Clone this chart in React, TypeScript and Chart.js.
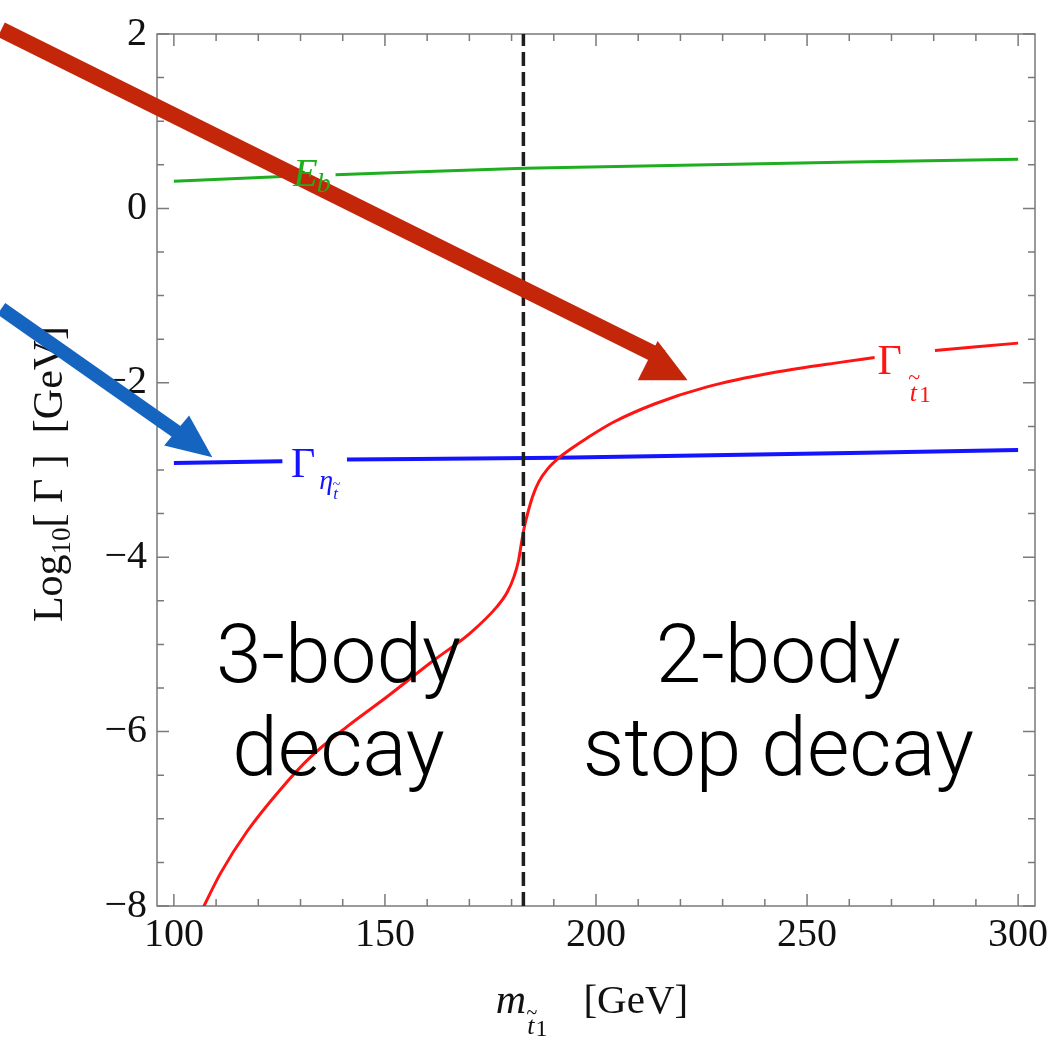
import React, { useEffect, useRef } from 'react';
import { Chart, registerables } from 'chart.js';

Chart.register(...registerables);

// Plot range (frame), in GeV and log10(GeV)
const X_MIN = 96;
const X_MAX = 304;
const Y_MIN = -8;
const Y_MAX = 2;

// Labelled and unlabelled frame ticks
const X_TICKS = [100, 150, 200, 250, 300];
const Y_TICKS = [-8, -6, -4, -2, 0, 2];
const X_MINOR_TICKS = [100, 110, 120, 130, 140, 150, 160, 170, 180, 190, 200, 210, 220, 230, 240, 250, 260, 270, 280, 290, 300];
const Y_MINOR_TICKS = [-8, -7.5, -7, -6.5, -6, -5.5, -5, -4.5, -4, -3.5, -3, -2.5, -2, -1.5, -1, -0.5, 0, 0.5, 1, 1.5, 2];

// Stop width Γ(t̃1), log10 [GeV]; the null leaves room for the curve label
const STOP_MASS = [
  106.6, 111.1, 117.4, 125.3, 132.4, 141.1, 150.5, 160.8, 170.2, 176.5, 179.0, 180.6, 181.6, 182.3,
  183.0, 183.8, 185.0, 186.5, 188.5, 191.0, 194.0, 198.0, 204.2, 214.0, 226.1, 242.4, 258.6, 266.0,
  273.0, 280.3, 300.0,
];
const STOP_WIDTH = [
  -8.05, -7.62, -7.14, -6.66, -6.29, -5.94, -5.6, -5.21, -4.87, -4.57, -4.4, -4.22, -4.05, -3.85,
  -3.66, -3.5, -3.3, -3.13, -2.99, -2.87, -2.76, -2.63, -2.45, -2.24, -2.05, -1.88, -1.76, -1.71,
  null, -1.63, -1.545,
];

// Stoponium width Γ(η_t̃)
const ETA_MASS = [100, 125.7, 133.4, 141.0, 191.0, 300];
const ETA_WIDTH = [-2.92, -2.9, null, -2.88, -2.86, -2.77];

// Binding energy E_b
const EB_MASS = [100, 127.2, 132.7, 138.3, 183.0, 300];
const EB_VALUE = [0.31, 0.368, null, 0.386, 0.46, 0.565];

// Two-body threshold
const THRESHOLD_MASS = 182.8;

// Callout arrows (data units; tails lie left of the frame)
const RED_ARROW_TAIL = [59.1, 2.05];
const RED_ARROW_SHAFT_END = [215.6, -1.713];
const RED_ARROW_HEAD = [[214.6, -1.52], [209.9, -1.97], [221.7, -1.97]];
const BLUE_ARROW_TAIL = [59.1, -1.15];
const BLUE_ARROW_SHAFT_END = [101.2, -2.58];
const BLUE_ARROW_HEAD = [[109.1, -2.854], [103.6, -2.375], [97.7, -2.718]];

// Region captions
const LEFT_CAPTION = ['3-body', 'decay'];
const RIGHT_CAPTION = ['2-body', 'stop decay'];
const LEFT_CAPTION_X = 139.0;
const RIGHT_CAPTION_X = 243.2;
const CAPTION_BASELINES = [-5.43, -6.5];

const RED = '#ff1414';
const BLUE = '#1414ff';
const GREEN = '#1fae1f';
const FRAME = '#7a7a7a';
const SERIF = '"Liberation Serif", "Times New Roman", serif';

const pairs = (xs: number[], ys: (number | null)[]) => xs.map((x, i) => ({ x, y: ys[i] }));

type Run = { t: string; font: string; dy?: number; dx?: number; tilde?: number };

function runsWidth(ctx: CanvasRenderingContext2D, runs: Run[]) {
  let w = 0;
  for (const r of runs) {
    ctx.font = r.font;
    w += ctx.measureText(r.t).width + (r.dx || 0);
  }
  return w;
}

function drawRuns(ctx: CanvasRenderingContext2D, x: number, y: number, runs: Run[]) {
  let cx = x;
  for (const r of runs) {
    ctx.font = r.font;
    cx += r.dx || 0;
    const w = ctx.measureText(r.t).width;
    ctx.fillText(r.t, cx, y + (r.dy || 0));
    if (r.tilde) {
      ctx.save();
      ctx.font = `${r.tilde}px ${SERIF}`;
      const tw = ctx.measureText('~').width;
      ctx.fillText('~', cx + w / 2 - tw / 2 + 1, y + (r.dy || 0) - r.tilde * 0.75);
      ctx.restore();
    }
    cx += w;
  }
}

function drawCentered(ctx: CanvasRenderingContext2D, cx: number, y: number, runs: Run[]) {
  drawRuns(ctx, cx - runsWidth(ctx, runs) / 2, y, runs);
}

const frameTicks = {
  id: 'frameTicks',
  beforeDatasetsDraw(chart: any) {
    const { ctx, chartArea } = chart;
    const { left, right, top, bottom } = chartArea;
    const xs = chart.scales.x;
    const ys = chart.scales.y;
    ctx.save();
    ctx.strokeStyle = FRAME;
    ctx.lineWidth = 1.5;
    ctx.strokeRect(left, top, right - left, bottom - top);
    ctx.beginPath();
    for (const v of X_MINOR_TICKS) {
      const len = X_TICKS.includes(v) ? 12 : 7;
      const x = xs.getPixelForValue(v);
      ctx.moveTo(x, bottom);
      ctx.lineTo(x, bottom - len);
      ctx.moveTo(x, top);
      ctx.lineTo(x, top + len);
    }
    for (const v of Y_MINOR_TICKS) {
      const len = Y_TICKS.includes(v) ? 12 : 7;
      const y = ys.getPixelForValue(v);
      ctx.moveTo(left, y);
      ctx.lineTo(left + len, y);
      ctx.moveTo(right, y);
      ctx.lineTo(right - len, y);
    }
    ctx.stroke();
    ctx.restore();
  },
};

const overlays = {
  id: 'overlays',
  afterDraw(chart: any) {
    const { ctx, chartArea } = chart;
    const xs = chart.scales.x;
    const ys = chart.scales.y;
    const P = (p: number[]) => [xs.getPixelForValue(p[0]), ys.getPixelForValue(p[1])];
    ctx.save();
    ctx.fillStyle = '#111';
    ctx.textBaseline = 'alphabetic';

    // x-axis title
    const cx = (chartArea.left + chartArea.right) / 2;
    drawCentered(ctx, cx - 4, 1013, [
      { t: 'm', font: `italic 42px ${SERIF}` },
      { t: 't', font: `italic 26px ${SERIF}`, dy: 21, dx: 1, tilde: 20 },
      { t: '1', font: `24px ${SERIF}`, dy: 23, dx: 1 },
      { t: '[GeV]', font: `41px ${SERIF}`, dx: 36 },
    ]);

    // y-axis title
    const cy = (chartArea.top + chartArea.bottom) / 2;
    ctx.save();
    ctx.translate(62, cy + 4);
    ctx.rotate(-Math.PI / 2);
    drawCentered(ctx, 0, 0, [
      { t: 'Log', font: `42px ${SERIF}` },
      { t: '10', font: `27px ${SERIF}`, dy: 8 },
      { t: '[ Γ ]  [GeV]', font: `42px ${SERIF}` },
    ]);
    ctx.restore();

    // region captions
    ctx.font = '300 82px Roboto, "Liberation Sans", sans-serif';
    ctx.textAlign = 'center';
    ctx.fillStyle = '#000';
    LEFT_CAPTION.forEach((t, i) => {
      ctx.fillText(t, xs.getPixelForValue(LEFT_CAPTION_X), ys.getPixelForValue(CAPTION_BASELINES[i]));
    });
    RIGHT_CAPTION.forEach((t, i) => {
      ctx.fillText(t, xs.getPixelForValue(RIGHT_CAPTION_X), ys.getPixelForValue(CAPTION_BASELINES[i]));
    });
    ctx.textAlign = 'left';

    // callout arrows
    const arrow = (tail: number[], end: number[], head: number[][], color: string, width: number) => {
      const [x0, y0] = P(tail);
      const [x1, y1] = P(end);
      ctx.strokeStyle = color;
      ctx.fillStyle = color;
      ctx.lineWidth = width;
      ctx.lineCap = 'butt';
      ctx.beginPath();
      ctx.moveTo(x0, y0);
      ctx.lineTo(x1, y1);
      ctx.stroke();
      ctx.beginPath();
      head.forEach((h, i) => {
        const [hx, hy] = P(h);
        if (i === 0) ctx.moveTo(hx, hy);
        else ctx.lineTo(hx, hy);
      });
      ctx.closePath();
      ctx.fill();
    };
    arrow(RED_ARROW_TAIL, RED_ARROW_SHAFT_END, RED_ARROW_HEAD, '#c4260a', 16);
    arrow(BLUE_ARROW_TAIL, BLUE_ARROW_SHAFT_END, BLUE_ARROW_HEAD, '#1565c0', 14);

    // curve labels, sitting in the gaps of their curves
    // E_b
    ctx.fillStyle = GREEN;
    drawCentered(ctx, xs.getPixelForValue(132.7), ys.getPixelForValue(0.377) + 10, [
      { t: 'E', font: `italic 40px ${SERIF}` },
      { t: 'b', font: `italic 28px ${SERIF}`, dy: 6, dx: -1 },
    ]);

    // Γ_η
    ctx.fillStyle = BLUE;
    drawCentered(ctx, xs.getPixelForValue(133.3), ys.getPixelForValue(-2.89) + 17, [
      { t: 'Γ', font: `42px ${SERIF}` },
      { t: 'η', font: `italic 28px ${SERIF}`, dy: 12, dx: 4 },
      { t: 't', font: `italic 17px ${SERIF}`, dy: 22, tilde: 14 },
    ]);

    // Γ_t1
    ctx.fillStyle = RED;
    drawCentered(ctx, xs.getPixelForValue(273.0), ys.getPixelForValue(-1.68) + 19, [
      { t: 'Γ', font: `42px ${SERIF}` },
      { t: 't', font: `italic 26px ${SERIF}`, dy: 27, dx: 8, tilde: 22 },
      { t: '1', font: `24px ${SERIF}`, dy: 28, dx: 2 },
    ]);
    ctx.restore();
  },
};

export default function App() {
  const ref = useRef<HTMLCanvasElement>(null);

  useEffect(() => {
    const canvas = ref.current;
    if (!canvas) return;
    const chart = new Chart(canvas, {
      type: 'line',
      data: {
        datasets: [
          {
            label: 'threshold',
            data: [{ x: THRESHOLD_MASS, y: Y_MIN }, { x: THRESHOLD_MASS, y: Y_MAX }],
            borderColor: '#1e1e1e',
            borderWidth: 3.5,
            borderDash: [14, 6],
            pointRadius: 0,
            order: 0,
          },
          {
            label: 'stop width',
            data: pairs(STOP_MASS, STOP_WIDTH),
            borderColor: RED,
            borderWidth: 3,
            pointRadius: 0,
            cubicInterpolationMode: 'monotone',
            order: 1,
          },
          {
            label: 'stoponium width',
            data: pairs(ETA_MASS, ETA_WIDTH),
            borderColor: BLUE,
            borderWidth: 4,
            pointRadius: 0,
            cubicInterpolationMode: 'monotone',
            order: 2,
          },
          {
            label: 'binding energy',
            data: pairs(EB_MASS, EB_VALUE),
            borderColor: GREEN,
            borderWidth: 3,
            pointRadius: 0,
            cubicInterpolationMode: 'monotone',
            order: 3,
          },
        ],
      } as any,
      options: {
        animation: false,
        responsive: false,
        devicePixelRatio: 1,
        spanGaps: false,
        layout: { padding: { top: 32, right: 28, left: 0, bottom: 0 } },
        plugins: { legend: { display: false }, tooltip: { enabled: false } },
        scales: {
          x: {
            type: 'linear',
            min: X_MIN,
            max: X_MAX,
            grid: { display: false, drawTicks: false },
            border: { display: false },
            afterBuildTicks: (s: any) => {
              s.ticks = X_TICKS.map((value) => ({ value }));
            },
            afterFit: (s: any) => {
              s.height = 133;
            },
            ticks: {
              padding: 5,
              maxRotation: 0,
              autoSkip: false,
              color: '#111',
              font: { family: SERIF, size: 40 },
            },
          },
          y: {
            type: 'linear',
            min: Y_MIN,
            max: Y_MAX,
            grid: { display: false, drawTicks: false },
            border: { display: false },
            afterBuildTicks: (s: any) => {
              s.ticks = Y_TICKS.map((value) => ({ value }));
            },
            afterFit: (s: any) => {
              s.width = 157;
            },
            ticks: {
              padding: 10,
              autoSkip: false,
              color: '#111',
              font: { family: SERIF, size: 40 },
              callback: (v: any) => (Number(v) < 0 ? '\u2212' + Math.abs(Number(v)) : String(v)),
            },
          },
        },
      } as any,
      plugins: [frameTicks, overlays],
    });
    return () => chart.destroy();
  }, []);

  return (
    <div style={{ position: 'fixed', left: 0, top: 0, width: 1063, height: 1039, background: '#fff' }}>
      <canvas ref={ref} width={1063} height={1039} style={{ display: 'block' }} />
    </div>
  );
}
